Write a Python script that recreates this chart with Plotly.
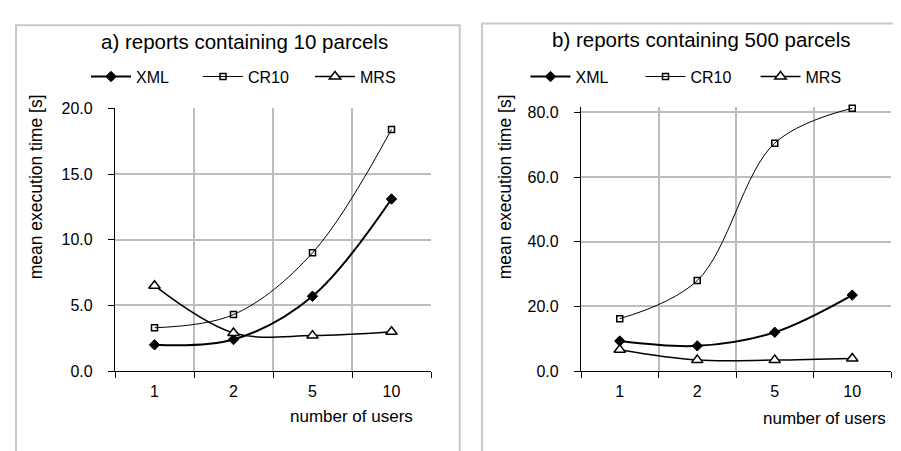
import plotly.graph_objects as go

users = ["1", "2", "5", "10"]

xml_10 = [2.0, 2.4, 5.7, 13.1]
cr10_10 = [3.3, 4.3, 9.0, 18.4]
mrs_10 = [6.5, 2.9, 2.7, 3.0]

xml_500 = [9.3, 7.8, 12.0, 23.5]
cr10_500 = [16.2, 28.0, 70.5, 81.3]
mrs_500 = [6.6, 3.4, 3.4, 3.9]

titles = ["a) reports containing 10 parcels", "b) reports containing 500 parcels"]
series_names = ["XML", "CR10", "MRS"]

W, H = 901, 451
FONT = "Liberation Sans, Arial, sans-serif"


def px(x):
    return x / W


def py(y):
    return 1 - y / H


styles = [
    dict(line=dict(color="black", width=2, shape="spline", smoothing=1),
         marker=dict(symbol="diamond", size=8, color="black", line=dict(color="black", width=1))),
    dict(line=dict(color="black", width=1, shape="spline", smoothing=1),
         marker=dict(symbol="square-open", size=6, color="black", line=dict(color="black", width=1.5))),
    dict(line=dict(color="black", width=1.5, shape="spline", smoothing=1),
         marker=dict(symbol="triangle-up", size=10, color="white", line=dict(color="black", width=1.5))),
]

fig = go.Figure()

panels = [
    ([xml_10, cr10_10, mrs_10], "x", "y", "legend"),
    ([xml_500, cr10_500, mrs_500], "x2", "y2", "legend2"),
]
for data, xa, ya, lg in panels:
    for name, vals, st in zip(series_names, data, styles):
        fig.add_trace(go.Scatter(
            x=users, y=vals, name=name, mode="lines+markers",
            xaxis=xa, yaxis=ya, legend=lg, cliponaxis=False, **st))

axis_common = dict(
    showline=True, linecolor="black", linewidth=1.2,
    ticks="outside", ticklen=6, tickcolor="black", tickwidth=1.2,
    tickfont=dict(family=FONT, size=16, color="black"),
    showgrid=True, gridcolor="#bdbdbd", gridwidth=1.5, zeroline=False,
)

fig.update_layout(
    width=W, height=H,
    margin=dict(l=0, r=0, t=0, b=0),
    paper_bgcolor="white", plot_bgcolor="white",
    font=dict(family=FONT, color="black"),
    showlegend=True,
    xaxis=dict(domain=[px(107), px(423)], type="category", range=[-0.5, 3.5],
               tickson="boundaries", anchor="y", ticklabelstandoff=6, **axis_common),
    yaxis=dict(domain=[py(369), py(96)], range=[0, 20], dtick=5, tickformat=".1f",
               anchor="x", ticklabelstandoff=12, **axis_common),
    xaxis2=dict(domain=[px(573), px(883)], type="category", range=[-0.5, 3.5],
                tickson="boundaries", anchor="y2", ticklabelstandoff=6, **axis_common),
    yaxis2=dict(domain=[py(369), py(94.5)], range=[0, 81.7], dtick=20, tickformat=".1f",
                anchor="x2", ticklabelstandoff=12, **axis_common),
    legend=dict(orientation="h", x=px(246), xanchor="center", y=py(63), yanchor="middle",
                font=dict(family=FONT, size=16, color="black"), bgcolor="rgba(0,0,0,0)",
                itemwidth=40, entrywidth=57),
    legend2=dict(orientation="h", x=px(690), xanchor="center", y=py(63), yanchor="middle",
                 font=dict(family=FONT, size=16, color="black"), bgcolor="rgba(0,0,0,0)",
                 itemwidth=40, entrywidth=60),
)

# panel borders
fig.add_shape(type="rect", xref="paper", yref="paper", x0=px(8), x1=px(451.7), y0=py(470), y1=py(9.7),
              line=dict(color="#c8c8c8", width=2), layer="below")
fig.add_shape(type="rect", xref="paper", yref="paper", x0=px(474), x1=px(920), y0=py(470), y1=py(7.7),
              line=dict(color="#c8c8c8", width=2), layer="below")

# titles
fig.add_annotation(text=titles[0], xref="paper", yref="paper", x=px(237), y=py(26.7),
                   xanchor="center", yanchor="middle", showarrow=False,
                   font=dict(family=FONT, size=20.5, color="black"))
fig.add_annotation(text=titles[1], xref="paper", yref="paper", x=px(693), y=py(24.5),
                   xanchor="center", yanchor="middle", showarrow=False,
                   font=dict(family=FONT, size=20.5, color="black"))

# axis titles
for xc, yc in [(28, 178), (497, 178)]:
    fig.add_annotation(text="mean execution time [s]", xref="paper", yref="paper", x=px(xc), y=py(yc),
                       xanchor="center", yanchor="middle", textangle=-90, showarrow=False,
                       font=dict(family=FONT, size=17.5, color="black"))
for xr, yc in [(407, 416), (880, 418)]:
    fig.add_annotation(text="number of users", xref="paper", yref="paper", x=px(xr), y=py(yc),
                       xanchor="right", yanchor="middle", showarrow=False,
                       font=dict(family=FONT, size=17, color="black"))

fig.write_html("out.html")
